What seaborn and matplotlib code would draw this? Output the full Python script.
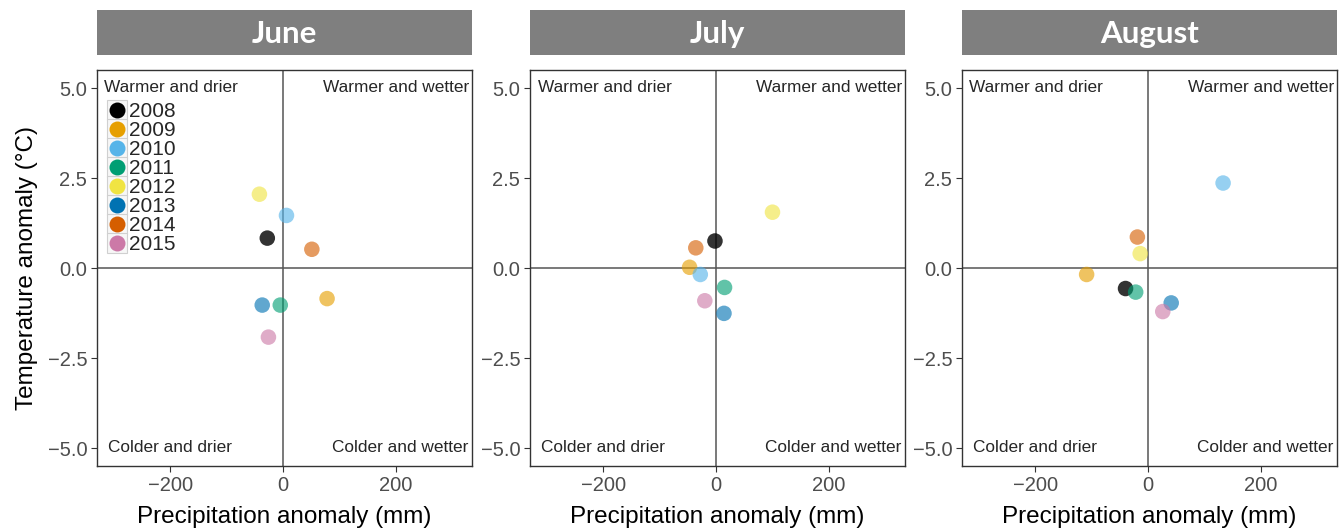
import matplotlib
matplotlib.use("Agg")
import matplotlib.pyplot as plt
import matplotlib.transforms as mtransforms
from matplotlib.lines import Line2D
import seaborn as sns
import pandas as pd

months = ["June", "July", "August"]
years = ["2008", "2009", "2010", "2011", "2012", "2013", "2014", "2015"]
colors = ["#000000", "#E69F00", "#56B4E9", "#009E73", "#F0E442", "#0072B2", "#D55E00", "#CC79A7"]

june_precip = [-28, 78, 6, -5, -42, -37, 51, -26]
june_temp = [0.83, -0.85, 1.46, -1.03, 2.05, -1.03, 0.52, -1.92]
july_precip = [-2, -47, -28, 15, 100, 14, -36, -20]
july_temp = [0.75, 0.02, -0.18, -0.54, 1.55, -1.26, 0.56, -0.91]
aug_precip = [-40, -109, 133, -22, -14, 41, -19, 26]
aug_temp = [-0.57, -0.18, 2.36, -0.67, 0.40, -0.97, 0.86, -1.21]

quad_labels = ["Warmer and drier", "Warmer and wetter", "Colder and drier", "Colder and wetter"]
x_ticks = [-200, 0, 200]
y_ticks = [-5.0, -2.5, 0.0, 2.5, 5.0]

frames = []
for m, p, t in [("June", june_precip, june_temp), ("July", july_precip, july_temp),
                ("August", aug_precip, aug_temp)]:
    frames.append(pd.DataFrame({"month": m, "year": years, "precip": p, "temp": t}))
df = pd.concat(frames, ignore_index=True)

sns.set_theme(style="white")
plt.rcParams["font.family"] = ["Liberation Sans", "DejaVu Sans"]

W, H = 1343, 531
fig = plt.figure(figsize=(W / 100, H / 100), dpi=100)
lefts = [97, 530, 962]
axw = 375
ax_top, ax_bot = 70, 466
strip_top, strip_bot = 10, 55
palette = dict(zip(years, colors))

for i, (m, lx) in enumerate(zip(months, lefts)):
    ax = fig.add_axes([lx / W, 1 - ax_bot / H, axw / W, (ax_bot - ax_top) / H])
    sax = fig.add_axes([lx / W, 1 - strip_bot / H, axw / W, (strip_bot - strip_top) / H])
    sax.set_facecolor("#7f7f7f")
    sax.set_xticks([]); sax.set_yticks([])
    for s in sax.spines.values():
        s.set_visible(False)
    sax.text(0.5, 0.47, m, ha="center", va="center", color="white", fontsize=22.5,
             fontweight="bold", family=["Lato", "DejaVu Sans"], transform=sax.transAxes)

    ax.axhline(0, color="#555555", lw=1.1, zorder=1)
    ax.axvline(0, color="#555555", lw=1.1, zorder=1)
    sub = df[df["month"] == m]
    dark = sub[sub["year"] == years[0]]
    rest = sub[sub["year"] != years[0]]
    sns.scatterplot(data=dark, x="precip", y="temp", hue="year", palette=palette,
                    hue_order=years, s=125, alpha=0.8, edgecolor="none",
                    legend=False, ax=ax, zorder=3)
    sns.scatterplot(data=rest, x="precip", y="temp", hue="year", palette=palette,
                    hue_order=years, s=125, alpha=0.62, edgecolor="none",
                    legend=False, ax=ax, zorder=3)
    ax.set_xlim(-330, 335)
    ax.set_ylim(-5.5, 5.5)
    ax.set_xticks(x_ticks)
    ax.set_xticklabels(["\u2212200", "0", "200"])
    ax.set_yticks(y_ticks)
    ax.set_yticklabels([("\u2212" if v < 0 else "") + f"{abs(v):.1f}" for v in y_ticks])
    ax.tick_params(axis="both", length=4, width=0.8, color="#333333", labelcolor="#4d4d4d",
                   labelsize=14.5, pad=3, direction="out", left=True, bottom=True)
    for s in ax.spines.values():
        s.set_color("#333333"); s.set_linewidth(1.0)
    ax.set_xlabel("Precipitation anomaly (mm)", fontsize=17.5, color="black", labelpad=8)
    if i == 0:
        ax.set_ylabel("Temperature anomaly (\u00b0C)", fontsize=17.5, color="black", labelpad=7)
    else:
        ax.set_ylabel("")
    tr = mtransforms.blended_transform_factory(ax.transAxes, ax.transData)
    ax.text(0.02, 5.0, quad_labels[0], ha="left", va="center", fontsize=12.4, transform=tr)
    ax.text(0.993, 5.0, quad_labels[1], ha="right", va="center", fontsize=12.4, transform=tr)
    ax.text(0.03, -5.0, quad_labels[2], ha="left", va="center", fontsize=12.4, transform=tr)
    ax.text(0.99, -5.0, quad_labels[3], ha="right", va="center", fontsize=12.4, transform=tr)

    if i == 0:
        handles = []
        for c in colors:
            box = Line2D([], [], marker="s", ls="none", markersize=14, markerfacecolor="#f7f7f7",
                         markeredgecolor="#d0d0d0", markeredgewidth=0.8)
            dot = Line2D([], [], marker="o", ls="none", markersize=11.5, markerfacecolor=c,
                         markeredgecolor="none")
            handles.append((box, dot))
        ax.legend(handles, years, loc="upper left", bbox_to_anchor=(0.027, 0.918),
                  frameon=False, fontsize=15, handlelength=0.9, handletextpad=0.15,
                  labelspacing=0.0, borderpad=0, borderaxespad=0)

fig.savefig("out.png", dpi=100)
